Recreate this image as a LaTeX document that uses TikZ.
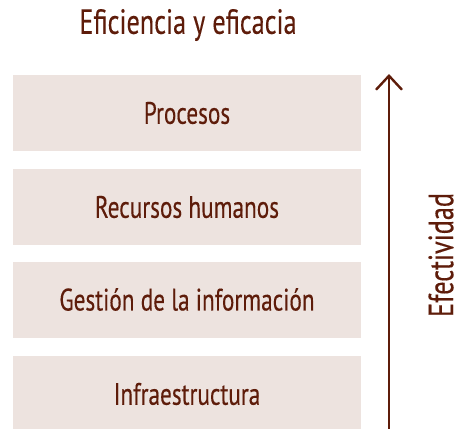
\documentclass[tikz,border=0pt]{standalone}
\usepackage{fontspec}
\setmainfont[FakeStretch=0.75,FakeBold=0.3]{PT Sans}
\usetikzlibrary{arrows.meta}
\definecolor{brn}{RGB}{94,28,10}
\definecolor{boxfill}{RGB}{237,227,223}
\begin{document}
\begin{tikzpicture}[x=1pt,y=-1pt,
  layer/.style={fill=boxfill,draw=none,minimum width=348pt,minimum height=76pt,inner sep=0pt,text=brn,font=\fontsize{31}{32}\selectfont},
  lbl/.style={text=brn,inner sep=0pt,font=\fontsize{35}{36}\selectfont}]
\useasboundingbox (0,0) rectangle (459,429);
\node[lbl] (title) at (188,25) {Eficiencia y eficacia};
\node[layer] (p) at (187,113) {Procesos};
\node[layer] (r) at (187,207) {Recursos humanos};
\node[layer] (g) at (187,299.5) {Gestión de la información};
\node[layer] (i) at (187,394) {Infraestructura};
\coordinate (a0) at (389,429);
\coordinate (a1) at (389,74);
\draw[brn,line width=2.4pt,-{Straight Barb[length=14pt,width=26pt,line width=2.4pt]}] (a0) -- (a1);
\node[lbl,rotate=90] (e) at (441,255) {Efectividad};
\end{tikzpicture}
\end{document}
